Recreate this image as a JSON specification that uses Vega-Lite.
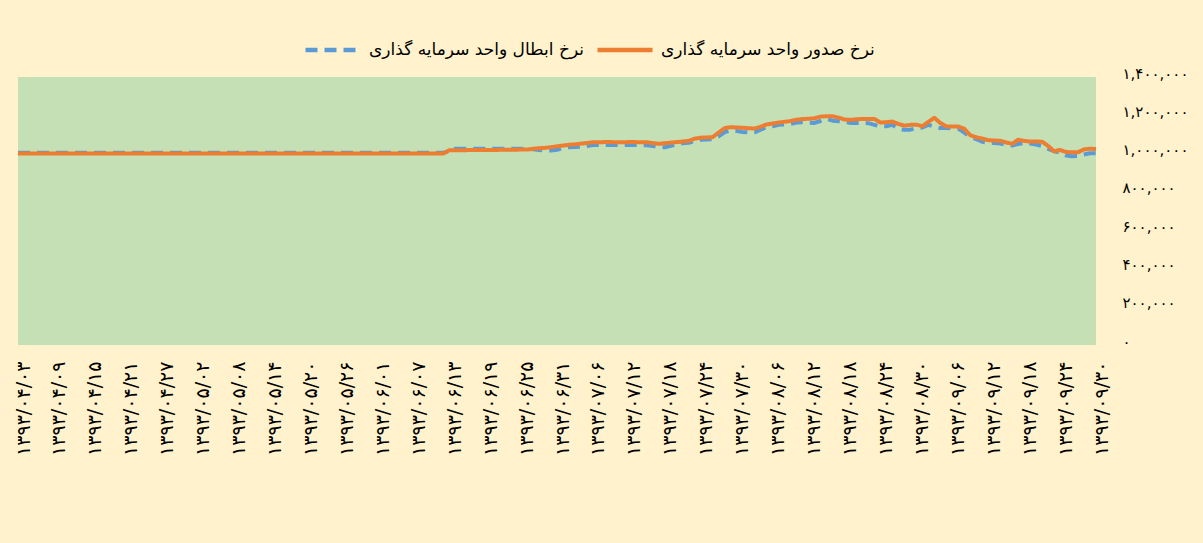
{
  "$schema": "https://vega.github.io/schema/vega-lite/v6.json",
  "width": 1078,
  "height": 268,
  "autosize": {"type": "none"},
  "padding": {"left": 18, "top": 77, "right": 107, "bottom": 198},
  "background": "#FFF2CC",
  "config": {
    "font": "DejaVu Sans",
    "view": {"fill": "#C5E0B4", "stroke": null}
  },
  "data": {
    "values": [
      {"d":"۱۳۹۳/۰۴/۰۳","s":1000000,"b":1004000},
      {"d":"۱۳۹۳/۰۴/۰۴","s":1000000,"b":1004000},
      {"d":"۱۳۹۳/۰۴/۰۵","s":1000000,"b":1004000},
      {"d":"۱۳۹۳/۰۴/۰۶","s":1000000,"b":1004000},
      {"d":"۱۳۹۳/۰۴/۰۷","s":1000000,"b":1004000},
      {"d":"۱۳۹۳/۰۴/۰۸","s":1000000,"b":1004000},
      {"d":"۱۳۹۳/۰۴/۰۹","s":1000000,"b":1004000},
      {"d":"۱۳۹۳/۰۴/۱۰","s":1000000,"b":1004000},
      {"d":"۱۳۹۳/۰۴/۱۱","s":1000000,"b":1004000},
      {"d":"۱۳۹۳/۰۴/۱۲","s":1000000,"b":1004000},
      {"d":"۱۳۹۳/۰۴/۱۳","s":1000000,"b":1004000},
      {"d":"۱۳۹۳/۰۴/۱۴","s":1000000,"b":1004000},
      {"d":"۱۳۹۳/۰۴/۱۵","s":1000000,"b":1004000},
      {"d":"۱۳۹۳/۰۴/۱۶","s":1000000,"b":1004000},
      {"d":"۱۳۹۳/۰۴/۱۷","s":1000000,"b":1004000},
      {"d":"۱۳۹۳/۰۴/۱۸","s":1000000,"b":1004000},
      {"d":"۱۳۹۳/۰۴/۱۹","s":1000000,"b":1004000},
      {"d":"۱۳۹۳/۰۴/۲۰","s":1000000,"b":1004000},
      {"d":"۱۳۹۳/۰۴/۲۱","s":1000000,"b":1004000},
      {"d":"۱۳۹۳/۰۴/۲۲","s":1000000,"b":1004000},
      {"d":"۱۳۹۳/۰۴/۲۳","s":1000000,"b":1004000},
      {"d":"۱۳۹۳/۰۴/۲۴","s":1000000,"b":1004000},
      {"d":"۱۳۹۳/۰۴/۲۵","s":1000000,"b":1004000},
      {"d":"۱۳۹۳/۰۴/۲۶","s":1000000,"b":1004000},
      {"d":"۱۳۹۳/۰۴/۲۷","s":1000000,"b":1004000},
      {"d":"۱۳۹۳/۰۴/۲۸","s":1000000,"b":1004000},
      {"d":"۱۳۹۳/۰۴/۲۹","s":1000000,"b":1004000},
      {"d":"۱۳۹۳/۰۴/۳۰","s":1000000,"b":1004000},
      {"d":"۱۳۹۳/۰۴/۳۱","s":1000000,"b":1004000},
      {"d":"۱۳۹۳/۰۵/۰۱","s":1000000,"b":1004000},
      {"d":"۱۳۹۳/۰۵/۰۲","s":1000000,"b":1004000},
      {"d":"۱۳۹۳/۰۵/۰۳","s":1000000,"b":1004000},
      {"d":"۱۳۹۳/۰۵/۰۴","s":1000000,"b":1004000},
      {"d":"۱۳۹۳/۰۵/۰۵","s":1000000,"b":1004000},
      {"d":"۱۳۹۳/۰۵/۰۶","s":1000000,"b":1004000},
      {"d":"۱۳۹۳/۰۵/۰۷","s":1000000,"b":1004000},
      {"d":"۱۳۹۳/۰۵/۰۸","s":1000000,"b":1004000},
      {"d":"۱۳۹۳/۰۵/۰۹","s":1000000,"b":1004000},
      {"d":"۱۳۹۳/۰۵/۱۰","s":1000000,"b":1004000},
      {"d":"۱۳۹۳/۰۵/۱۱","s":1000000,"b":1004000},
      {"d":"۱۳۹۳/۰۵/۱۲","s":1000000,"b":1004000},
      {"d":"۱۳۹۳/۰۵/۱۳","s":1000000,"b":1004000},
      {"d":"۱۳۹۳/۰۵/۱۴","s":1000000,"b":1004000},
      {"d":"۱۳۹۳/۰۵/۱۵","s":1000000,"b":1004000},
      {"d":"۱۳۹۳/۰۵/۱۶","s":1000000,"b":1004000},
      {"d":"۱۳۹۳/۰۵/۱۷","s":1000000,"b":1004000},
      {"d":"۱۳۹۳/۰۵/۱۸","s":1000000,"b":1004000},
      {"d":"۱۳۹۳/۰۵/۱۹","s":1000000,"b":1004000},
      {"d":"۱۳۹۳/۰۵/۲۰","s":1000000,"b":1004000},
      {"d":"۱۳۹۳/۰۵/۲۱","s":1000000,"b":1004000},
      {"d":"۱۳۹۳/۰۵/۲۲","s":1000000,"b":1004000},
      {"d":"۱۳۹۳/۰۵/۲۳","s":1000000,"b":1004000},
      {"d":"۱۳۹۳/۰۵/۲۴","s":1000000,"b":1004000},
      {"d":"۱۳۹۳/۰۵/۲۵","s":1000000,"b":1004000},
      {"d":"۱۳۹۳/۰۵/۲۶","s":1000000,"b":1004000},
      {"d":"۱۳۹۳/۰۵/۲۷","s":1000000,"b":1004000},
      {"d":"۱۳۹۳/۰۵/۲۸","s":1000000,"b":1004000},
      {"d":"۱۳۹۳/۰۵/۲۹","s":1000000,"b":1004000},
      {"d":"۱۳۹۳/۰۵/۳۰","s":1000000,"b":1004000},
      {"d":"۱۳۹۳/۰۵/۳۱","s":1000000,"b":1004000},
      {"d":"۱۳۹۳/۰۶/۰۱","s":1000000,"b":1004000},
      {"d":"۱۳۹۳/۰۶/۰۲","s":1000000,"b":1004000},
      {"d":"۱۳۹۳/۰۶/۰۳","s":1000000,"b":1004000},
      {"d":"۱۳۹۳/۰۶/۰۴","s":1000000,"b":1004000},
      {"d":"۱۳۹۳/۰۶/۰۵","s":1000000,"b":1004000},
      {"d":"۱۳۹۳/۰۶/۰۶","s":1000000,"b":1004000},
      {"d":"۱۳۹۳/۰۶/۰۷","s":1000000,"b":1004000},
      {"d":"۱۳۹۳/۰۶/۰۸","s":1000000,"b":1004000},
      {"d":"۱۳۹۳/۰۶/۰۹","s":1000000,"b":1004000},
      {"d":"۱۳۹۳/۰۶/۱۰","s":1000000,"b":1004000},
      {"d":"۱۳۹۳/۰۶/۱۱","s":1000000,"b":1004000},
      {"d":"۱۳۹۳/۰۶/۱۲","s":1000000,"b":1004000},
      {"d":"۱۳۹۳/۰۶/۱۳","s":1017000,"b":1012000},
      {"d":"۱۳۹۳/۰۶/۱۴","s":1018000,"b":1025000},
      {"d":"۱۳۹۳/۰۶/۱۵","s":1018000,"b":1025000},
      {"d":"۱۳۹۳/۰۶/۱۶","s":1018000,"b":1025000},
      {"d":"۱۳۹۳/۰۶/۱۷","s":1019000,"b":1025000},
      {"d":"۱۳۹۳/۰۶/۱۸","s":1019000,"b":1025000},
      {"d":"۱۳۹۳/۰۶/۱۹","s":1019000,"b":1025000},
      {"d":"۱۳۹۳/۰۶/۲۰","s":1019000,"b":1025000},
      {"d":"۱۳۹۳/۰۶/۲۱","s":1019000,"b":1025000},
      {"d":"۱۳۹۳/۰۶/۲۲","s":1020000,"b":1025000},
      {"d":"۱۳۹۳/۰۶/۲۳","s":1020000,"b":1025000},
      {"d":"۱۳۹۳/۰۶/۲۴","s":1020000,"b":1025000},
      {"d":"۱۳۹۳/۰۶/۲۵","s":1021000,"b":1025000},
      {"d":"۱۳۹۳/۰۶/۲۶","s":1021000,"b":1025000},
      {"d":"۱۳۹۳/۰۶/۲۷","s":1025000,"b":1022000},
      {"d":"۱۳۹۳/۰۶/۲۸","s":1028000,"b":1018000},
      {"d":"۱۳۹۳/۰۶/۲۹","s":1030000,"b":1016000},
      {"d":"۱۳۹۳/۰۶/۳۰","s":1033000,"b":1016000},
      {"d":"۱۳۹۳/۰۶/۳۱","s":1038000,"b":1020000},
      {"d":"۱۳۹۳/۰۷/۰۱","s":1042000,"b":1030000},
      {"d":"۱۳۹۳/۰۷/۰۲","s":1046000,"b":1033000},
      {"d":"۱۳۹۳/۰۷/۰۳","s":1048000,"b":1034000},
      {"d":"۱۳۹۳/۰۷/۰۴","s":1052000,"b":1036000},
      {"d":"۱۳۹۳/۰۷/۰۵","s":1055000,"b":1040000},
      {"d":"۱۳۹۳/۰۷/۰۶","s":1059000,"b":1045000},
      {"d":"۱۳۹۳/۰۷/۰۷","s":1059000,"b":1045000},
      {"d":"۱۳۹۳/۰۷/۰۸","s":1060000,"b":1045000},
      {"d":"۱۳۹۳/۰۷/۰۹","s":1060000,"b":1046000},
      {"d":"۱۳۹۳/۰۷/۱۰","s":1059000,"b":1045000},
      {"d":"۱۳۹۳/۰۷/۱۱","s":1059000,"b":1044000},
      {"d":"۱۳۹۳/۰۷/۱۲","s":1060000,"b":1045000},
      {"d":"۱۳۹۳/۰۷/۱۳","s":1060000,"b":1045000},
      {"d":"۱۳۹۳/۰۷/۱۴","s":1059000,"b":1044000},
      {"d":"۱۳۹۳/۰۷/۱۵","s":1059000,"b":1043000},
      {"d":"۱۳۹۳/۰۷/۱۶","s":1055000,"b":1040000},
      {"d":"۱۳۹۳/۰۷/۱۷","s":1051000,"b":1033000},
      {"d":"۱۳۹۳/۰۷/۱۸","s":1054000,"b":1033000},
      {"d":"۱۳۹۳/۰۷/۱۹","s":1057000,"b":1040000},
      {"d":"۱۳۹۳/۰۷/۲۰","s":1060000,"b":1050000},
      {"d":"۱۳۹۳/۰۷/۲۱","s":1063000,"b":1054000},
      {"d":"۱۳۹۳/۰۷/۲۲","s":1066000,"b":1056000},
      {"d":"۱۳۹۳/۰۷/۲۳","s":1078000,"b":1065000},
      {"d":"۱۳۹۳/۰۷/۲۴","s":1083000,"b":1072000},
      {"d":"۱۳۹۳/۰۷/۲۵","s":1084000,"b":1073000},
      {"d":"۱۳۹۳/۰۷/۲۶","s":1086000,"b":1075000},
      {"d":"۱۳۹۳/۰۷/۲۷","s":1110000,"b":1090000},
      {"d":"۱۳۹۳/۰۷/۲۸","s":1133000,"b":1112000},
      {"d":"۱۳۹۳/۰۷/۲۹","s":1138000,"b":1120000},
      {"d":"۱۳۹۳/۰۷/۳۰","s":1136000,"b":1118000},
      {"d":"۱۳۹۳/۰۸/۰۱","s":1135000,"b":1113000},
      {"d":"۱۳۹۳/۰۸/۰۲","s":1132000,"b":1111000},
      {"d":"۱۳۹۳/۰۸/۰۳","s":1131000,"b":1111000},
      {"d":"۱۳۹۳/۰۸/۰۴","s":1140000,"b":1125000},
      {"d":"۱۳۹۳/۰۸/۰۵","s":1152000,"b":1138000},
      {"d":"۱۳۹۳/۰۸/۰۶","s":1157000,"b":1143000},
      {"d":"۱۳۹۳/۰۸/۰۷","s":1162000,"b":1150000},
      {"d":"۱۳۹۳/۰۸/۰۸","s":1166000,"b":1152000},
      {"d":"۱۳۹۳/۰۸/۰۹","s":1170000,"b":1155000},
      {"d":"۱۳۹۳/۰۸/۱۰","s":1177000,"b":1162000},
      {"d":"۱۳۹۳/۰۸/۱۱","s":1180000,"b":1164000},
      {"d":"۱۳۹۳/۰۸/۱۲","s":1182000,"b":1161000},
      {"d":"۱۳۹۳/۰۸/۱۳","s":1184000,"b":1160000},
      {"d":"۱۳۹۳/۰۸/۱۴","s":1193000,"b":1170000},
      {"d":"۱۳۹۳/۰۸/۱۵","s":1195000,"b":1181000},
      {"d":"۱۳۹۳/۰۸/۱۶","s":1195000,"b":1172000},
      {"d":"۱۳۹۳/۰۸/۱۷","s":1188000,"b":1169000},
      {"d":"۱۳۹۳/۰۸/۱۸","s":1178000,"b":1167000},
      {"d":"۱۳۹۳/۰۸/۱۹","s":1176000,"b":1160000},
      {"d":"۱۳۹۳/۰۸/۲۰","s":1179000,"b":1160000},
      {"d":"۱۳۹۳/۰۸/۲۱","s":1181000,"b":1160000},
      {"d":"۱۳۹۳/۰۸/۲۲","s":1181000,"b":1159000},
      {"d":"۱۳۹۳/۰۸/۲۳","s":1181000,"b":1150000},
      {"d":"۱۳۹۳/۰۸/۲۴","s":1162000,"b":1141000},
      {"d":"۱۳۹۳/۰۸/۲۵","s":1164000,"b":1143000},
      {"d":"۱۳۹۳/۰۸/۲۶","s":1167000,"b":1150000},
      {"d":"۱۳۹۳/۰۸/۲۷","s":1155000,"b":1128000},
      {"d":"۱۳۹۳/۰۸/۲۸","s":1146000,"b":1124000},
      {"d":"۱۳۹۳/۰۸/۲۹","s":1150000,"b":1125000},
      {"d":"۱۳۹۳/۰۸/۳۰","s":1151000,"b":1133000},
      {"d":"۱۳۹۳/۰۹/۰۱","s":1143000,"b":1136000},
      {"d":"۱۳۹۳/۰۹/۰۲","s":1165000,"b":1150000},
      {"d":"۱۳۹۳/۰۹/۰۳","s":1187000,"b":1140000},
      {"d":"۱۳۹۳/۰۹/۰۴","s":1160000,"b":1133000},
      {"d":"۱۳۹۳/۰۹/۰۵","s":1142000,"b":1134000},
      {"d":"۱۳۹۳/۰۹/۰۶","s":1141000,"b":1131000},
      {"d":"۱۳۹۳/۰۹/۰۷","s":1141000,"b":1130000},
      {"d":"۱۳۹۳/۰۹/۰۸","s":1130000,"b":1110000},
      {"d":"۱۳۹۳/۰۹/۰۹","s":1096000,"b":1087000},
      {"d":"۱۳۹۳/۰۹/۱۰","s":1085000,"b":1075000},
      {"d":"۱۳۹۳/۰۹/۱۱","s":1078000,"b":1062000},
      {"d":"۱۳۹۳/۰۹/۱۲","s":1070000,"b":1056000},
      {"d":"۱۳۹۳/۰۹/۱۳","s":1068000,"b":1055000},
      {"d":"۱۳۹۳/۰۹/۱۴","s":1067000,"b":1052000},
      {"d":"۱۳۹۳/۰۹/۱۵","s":1058000,"b":1045000},
      {"d":"۱۳۹۳/۰۹/۱۶","s":1051000,"b":1042000},
      {"d":"۱۳۹۳/۰۹/۱۷","s":1072000,"b":1050000},
      {"d":"۱۳۹۳/۰۹/۱۸","s":1066000,"b":1056000},
      {"d":"۱۳۹۳/۰۹/۱۹","s":1063000,"b":1052000},
      {"d":"۱۳۹۳/۰۹/۲۰","s":1063000,"b":1047000},
      {"d":"۱۳۹۳/۰۹/۲۱","s":1062000,"b":1040000},
      {"d":"۱۳۹۳/۰۹/۲۲","s":1040000,"b":1025000},
      {"d":"۱۳۹۳/۰۹/۲۳","s":1012000,"b":1012000},
      {"d":"۱۳۹۳/۰۹/۲۴","s":1019000,"b":1005000},
      {"d":"۱۳۹۳/۰۹/۲۵","s":1008000,"b":990000},
      {"d":"۱۳۹۳/۰۹/۲۶","s":1007000,"b":986000},
      {"d":"۱۳۹۳/۰۹/۲۷","s":1007000,"b":987000},
      {"d":"۱۳۹۳/۰۹/۲۸","s":1022000,"b":995000},
      {"d":"۱۳۹۳/۰۹/۲۹","s":1025000,"b":1002000},
      {"d":"۱۳۹۳/۰۹/۳۰","s":1024000,"b":1002000}
    ]
  },
  "transform": [{"fold": ["b", "s"], "as": ["series", "value"]}],
  "mark": {"type": "line", "strokeWidth": 4, "strokeJoin": "round"},
  "encoding": {
    "x": {
      "field": "d",
      "type": "ordinal",
      "sort": null,
      "scale": {"type": "point", "padding": 0},
      "axis": {
        "title": null,
        "domain": false,
        "ticks": false,
        "grid": false,
        "labelAngle": -90,
        "labelPadding": 16,
        "labelOffset": 5,
        "labelFontSize": 19,
        "labelColor": "#000000",
        "labelOverlap": false,
        "values": ["۱۳۹۳/۰۴/۰۳","۱۳۹۳/۰۴/۰۹","۱۳۹۳/۰۴/۱۵","۱۳۹۳/۰۴/۲۱","۱۳۹۳/۰۴/۲۷","۱۳۹۳/۰۵/۰۲","۱۳۹۳/۰۵/۰۸","۱۳۹۳/۰۵/۱۴","۱۳۹۳/۰۵/۲۰","۱۳۹۳/۰۵/۲۶","۱۳۹۳/۰۶/۰۱","۱۳۹۳/۰۶/۰۷","۱۳۹۳/۰۶/۱۳","۱۳۹۳/۰۶/۱۹","۱۳۹۳/۰۶/۲۵","۱۳۹۳/۰۶/۳۱","۱۳۹۳/۰۷/۰۶","۱۳۹۳/۰۷/۱۲","۱۳۹۳/۰۷/۱۸","۱۳۹۳/۰۷/۲۴","۱۳۹۳/۰۷/۳۰","۱۳۹۳/۰۸/۰۶","۱۳۹۳/۰۸/۱۲","۱۳۹۳/۰۸/۱۸","۱۳۹۳/۰۸/۲۴","۱۳۹۳/۰۸/۳۰","۱۳۹۳/۰۹/۰۶","۱۳۹۳/۰۹/۱۲","۱۳۹۳/۰۹/۱۸","۱۳۹۳/۰۹/۲۴","۱۳۹۳/۰۹/۳۰"]
      }
    },
    "y": {
      "field": "value",
      "type": "quantitative",
      "scale": {"domain": [0, 1400000], "nice": false, "zero": true},
      "axis": {
        "orient": "right",
        "title": null,
        "domain": false,
        "ticks": false,
        "grid": false,
        "values": [0, 200000, 400000, 600000, 800000, 1000000, 1200000, 1400000],
        "labelPadding": 26,
        "labelOffset": -4,
        "labelFontSize": 15,
        "labelColor": "#000000",
        "labelExpr": "replace(replace(replace(replace(replace(replace(format(datum.value, ',.0f'), regexp('0','g'), '۰'), regexp('1','g'), '۱'), regexp('2','g'), '۲'), regexp('4','g'), '۴'), regexp('6','g'), '۶'), regexp('8','g'), '۸')"
      }
    },
    "color": {
      "field": "series",
      "type": "nominal",
      "scale": {"domain": ["b", "s"], "range": ["#5B9BD5", "#ED7D31"]},
      "legend": {
        "title": null,
        "orient": "none",
        "legendX": 285,
        "legendY": -57,
        "direction": "horizontal",
        "symbolType": "stroke",
        "symbolSize": 3025,
        "symbolStrokeWidth": 4.5,
        "labelFontSize": 17,
        "labelColor": "#000000",
        "labelOffset": 6,
        "columnPadding": 3,
        "labelLimit": 400,
        "labelExpr": "datum.value == 'b' ? 'نرخ ابطال واحد سرمایه گذاری' : 'نرخ صدور واحد سرمایه گذاری'"
      }
    },
    "strokeDash": {
      "field": "series",
      "type": "nominal",
      "scale": {"domain": ["b", "s"], "range": [[12, 7], [1, 0]]},
      "legend": {
        "title": null,
        "orient": "none",
        "legendX": 285,
        "legendY": -57,
        "direction": "horizontal",
        "symbolType": "stroke",
        "symbolSize": 3025,
        "symbolStrokeWidth": 4.5,
        "labelFontSize": 17,
        "labelColor": "#000000",
        "labelOffset": 6,
        "columnPadding": 3,
        "labelLimit": 400,
        "labelExpr": "datum.value == 'b' ? 'نرخ ابطال واحد سرمایه گذاری' : 'نرخ صدور واحد سرمایه گذاری'"
      }
    }
  }
}
